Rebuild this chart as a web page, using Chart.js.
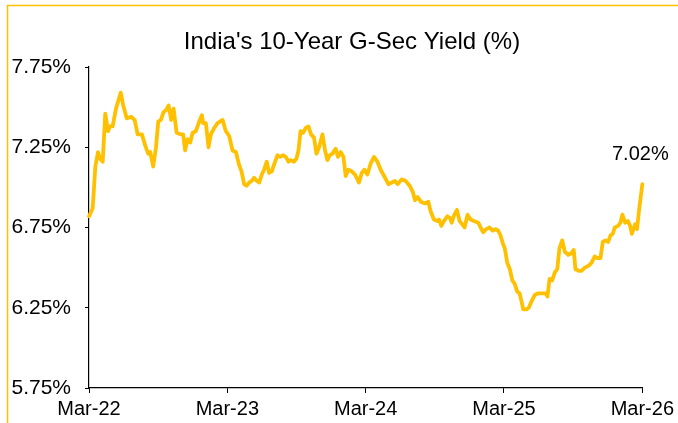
<!DOCTYPE html>
<html><head><meta charset="utf-8">
<script src="https://cdn.jsdelivr.net/npm/chart.js@4"></script>
<style>html,body{margin:0;padding:0;background:#fff}#wrap{position:relative;width:678px;height:423px}</style>
</head><body><div id="wrap"><canvas id="c" width="678" height="423"></canvas></div>
<script>
const chartTitle = "India's 10-Year G-Sec Yield (%)";
const xTickLabels = ['Mar-22', 'Mar-23', 'Mar-24', 'Mar-25', 'Mar-26'];
const xTickMonths = [0, 12, 24, 36, 48];
const yTickValues = [5.75, 6.25, 6.75, 7.25, 7.75];
const lastLabel = '7.02%';

// x position of each reading, in months since Mar-22
const monthsSinceMar22 = [
  0, 0.32, 0.55, 0.78, 0.95, 1.19, 1.41, 1.65, 1.82, 2.05, 2.34, 2.75, 2.97, 3.27, 3.64, 3.96, 4.22, 4.59, 4.88, 5.14,
  5.31, 5.57, 5.81, 6.01, 6.24, 6.47, 6.67, 6.91, 7.13, 7.34, 7.60, 7.97, 8.17, 8.34, 8.55, 8.78, 8.99, 9.27, 9.56, 9.79,
  9.90, 10.14, 10.37, 10.57, 10.86, 11.15, 11.59, 11.87, 12.16, 12.45, 12.74, 13.02, 13.23, 13.46, 13.67, 13.89, 14.12, 14.32, 14.56, 14.76,
  14.99, 15.19, 15.42, 15.62, 15.86, 16.09, 16.35, 16.58, 16.84, 17.07, 17.31, 17.50, 17.79, 18.00, 18.17, 18.35, 18.57, 18.80, 19.04, 19.26,
  19.52, 19.73, 19.96, 20.25, 20.48, 20.68, 20.88, 21.12, 21.40, 21.60, 21.84, 22.07, 22.27, 22.50, 22.79, 23.08, 23.42, 23.66, 23.89, 24.15,
  24.44, 24.72, 25.02, 25.30, 25.68, 25.97, 26.26, 26.54, 26.78, 27.12, 27.47, 27.82, 28.10, 28.28, 28.51, 28.80,
  29.14, 29.44, 29.64, 29.92, 30.22, 30.36, 30.56, 30.79, 31.08, 31.31, 31.46, 31.69, 31.92, 32.15, 32.38, 32.58, 32.84, 33.10, 33.39, 33.77,
  33.97, 34.20, 34.46, 34.75, 35.03, 35.27, 35.50, 35.70, 35.90, 36.07, 36.28, 36.51, 36.72, 36.92, 37.15, 37.35, 37.52, 37.67, 37.95, 38.15, 38.39,
  38.67, 38.97, 39.32, 39.60, 39.77, 39.95, 40.18, 40.41, 40.62, 40.81, 41.05, 41.27, 41.57, 41.85, 42.05, 42.20, 42.49, 42.72, 43.01, 43.30,
  43.59, 43.87, 44.08, 44.37, 44.57, 44.80, 45.03, 45.23, 45.43, 45.61, 45.90, 46.10, 46.27, 46.51, 46.74, 46.94, 47.09, 47.23, 47.37, 47.54, 47.72, 48
];

// 10-year G-Sec yield, %
const yieldPct = [
  6.82, 6.87, 7.13, 7.22, 7.18, 7.16, 7.46, 7.35, 7.38, 7.38, 7.49, 7.59, 7.51, 7.43, 7.44, 7.42, 7.33, 7.33, 7.26, 7.21,
  7.22, 7.13, 7.25, 7.41, 7.42, 7.47, 7.48, 7.51, 7.42, 7.49, 7.34, 7.33, 7.33, 7.23, 7.30, 7.28, 7.34, 7.35, 7.41, 7.45,
  7.40, 7.40, 7.25, 7.33, 7.37, 7.40, 7.42, 7.35, 7.32, 7.23, 7.22, 7.14, 7.10, 7.02, 7.01, 7.03, 7.04, 7.06, 7.04, 7.03,
  7.08, 7.11, 7.16, 7.09, 7.10, 7.15, 7.20, 7.19, 7.20, 7.19, 7.16, 7.17, 7.16, 7.18, 7.23, 7.35, 7.34, 7.37, 7.38, 7.33,
  7.31, 7.21, 7.25, 7.33, 7.23, 7.17, 7.20, 7.21, 7.24, 7.19, 7.22, 7.19, 7.07, 7.11, 7.10, 7.08, 7.03, 7.09, 7.11, 7.08,
  7.15, 7.19, 7.16, 7.11, 7.06, 7.02, 7.03, 7.04, 7.02, 7.05, 7.04, 7.01, 6.97, 6.92, 6.94, 6.91,
  6.90, 6.91, 6.85, 6.80, 6.79, 6.80, 6.76, 6.79, 6.82, 6.81, 6.78, 6.83, 6.86, 6.79, 6.77, 6.75, 6.83, 6.80, 6.79, 6.78,
  6.75, 6.72, 6.74, 6.75, 6.73, 6.74, 6.73, 6.70, 6.65, 6.62, 6.53, 6.49, 6.42, 6.40, 6.35, 6.34, 6.29, 6.24, 6.24, 6.25, 6.29,
  6.33, 6.34, 6.34, 6.34, 6.32, 6.43, 6.42, 6.47, 6.49, 6.62, 6.67, 6.60, 6.58, 6.59, 6.61, 6.49, 6.48, 6.48, 6.50, 6.51,
  6.53, 6.57, 6.56, 6.56, 6.66, 6.67, 6.66, 6.70, 6.71, 6.75, 6.76, 6.78, 6.83, 6.78, 6.79, 6.76, 6.71, 6.74, 6.77, 6.74, 6.86, 7.02
];

const FONT = '"Liberation Sans", Arial, sans-serif';

const decor = {
  id: 'decor',
  beforeDraw(chart) {
    const ctx = chart.ctx;
    ctx.save();
    ctx.strokeStyle = '#FFC000';
    ctx.lineWidth = 1.5;
    ctx.beginPath();
    ctx.moveTo(7, 5.5); ctx.lineTo(678, 5.5);
    ctx.moveTo(7.5, 5); ctx.lineTo(7.5, 423);
    ctx.stroke();
    ctx.fillStyle = '#000';
    ctx.font = '24px ' + FONT;
    ctx.textAlign = 'center';
    ctx.textBaseline = 'alphabetic';
    ctx.fillText(chartTitle, 352, 48.5);
    ctx.restore();
  },
  afterDatasetsDraw(chart) {
    const ctx = chart.ctx;
    const i = yieldPct.length - 1;
    const px = chart.scales.x.getPixelForValue(monthsSinceMar22[i]);
    const py = chart.scales.y.getPixelForValue(yieldPct[i]);
    ctx.save();
    ctx.fillStyle = '#000';
    ctx.font = '20px ' + FONT;
    ctx.textAlign = 'center';
    ctx.textBaseline = 'alphabetic';
    ctx.fillText(lastLabel, px - 2, py - 24);
    ctx.restore();
  }
};

new Chart(document.getElementById('c'), {
  type: 'line',
  data: {
    datasets: [{
      data: monthsSinceMar22.map((m, i) => ({ x: m, y: yieldPct[i] })),
      borderColor: '#FFC000',
      borderWidth: 3.8,
      pointRadius: 0,
      tension: 0,
      clip: false,
      borderJoinStyle: 'round',
      borderCapStyle: 'round'
    }]
  },
  options: {
    responsive: false,
    animation: false,
    devicePixelRatio: 1,
    layout: { padding: { top: 67, right: 35, bottom: 0, left: 0 } },
    plugins: { legend: { display: false }, title: { display: false }, tooltip: { enabled: false } },
    scales: {
      x: {
        type: 'linear', min: 0, max: 48,
        afterBuildTicks: s => { s.ticks = xTickMonths.map(v => ({ value: v })); },
        afterFit: s => { s.height = 35; },
        ticks: {
          callback: v => xTickLabels[xTickMonths.indexOf(v)],
          font: { family: FONT, size: 20 }, color: '#000', padding: 4, maxRotation: 0, autoSkip: false
        },
        grid: { display: true, drawOnChartArea: false, drawTicks: true, tickLength: 5, color: '#000', tickWidth: 1 },
        border: { display: true, color: '#000', width: 1.2 }
      },
      y: {
        min: 5.75, max: 7.75,
        afterBuildTicks: s => { s.ticks = yTickValues.map(v => ({ value: v })); },
        afterFit: s => { s.width = 89; },
        ticks: {
          callback: v => v.toFixed(2) + '%',
          font: { family: FONT, size: 21 }, color: '#000', padding: 14
        },
        grid: { display: true, drawOnChartArea: false, drawTicks: true, tickLength: 4, color: '#000', tickWidth: 1 },
        border: { display: true, color: '#000', width: 1.2 }
      }
    }
  },
  plugins: [decor]
});
</script></body></html>
